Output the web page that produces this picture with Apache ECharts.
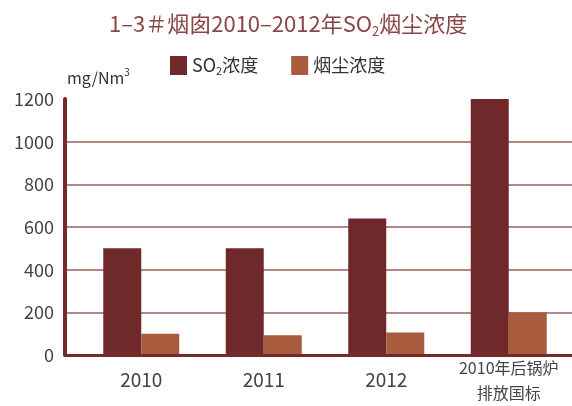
<!DOCTYPE html>
<html>
<head>
<meta charset="utf-8">
<script src="https://cdn.jsdelivr.net/npm/echarts@6/dist/echarts.min.js"></script>
<style>
  html, body { margin: 0; padding: 0; background: #fff; }
  #main { width: 572px; height: 406px; }
</style>
</head>
<body>
<div id="main"></div>
<script>
// 图表数据
const categories = ['2010', '2011', '2012', '2010年后锅炉\n排放国标'];
const so2Values = [500, 500, 640, 1200];
const dustValues = [100, 92, 105, 200];
const yMin = 0;
const yMax = 1200;
const yStep = 200;

const so2Color = '#70292a';
const dustColor = '#a85c3d';
const axisColor = '#722a2a';
const gridColor = '#b58686';
const font = '"Noto Sans CJK SC", "Noto Sans", sans-serif';

var myChart = echarts.init(document.getElementById('main'));

// 最上面那条 1200 的线不画
var splitColors = [];
for (var v = yMin; v <= yMax; v += yStep) {
  splitColors.push(v === yMax ? 'rgba(0,0,0,0)' : gridColor);
}

var catData = categories.map(function (c, i) {
  if (i === categories.length - 1) {
    return {
      value: c,
      textStyle: { fontSize: 16, lineHeight: 25, verticalAlign: 'middle', padding: [10, 0, 0, 0], color: '#444' }
    };
  }
  return c;
});

var option = {
  animation: false,
  textStyle: { fontFamily: font, fontWeight: 'normal' },
  title: [
    {
      text: '{a|1–3＃烟囱2010–2012年SO}{b|2}{a|烟尘浓度}',
      left: 104,
      top: 5,
      textStyle: {
        fontWeight: 'normal',
        rich: {
          a: { fontSize: 22, color: '#8a4646', lineHeight: 28, fontFamily: font, fontWeight: 'normal' },
          b: { fontSize: 13, color: '#8a4646', lineHeight: 16, verticalAlign: 'bottom', fontFamily: font, fontWeight: 'normal' }
        }
      }
    },
    {
      text: '{a|mg/Nm}{b|3}',
      left: 62,
      top: 62,
      textStyle: {
        fontWeight: 'normal',
        rich: {
          a: { fontSize: 16, color: '#333', lineHeight: 22, fontFamily: font, fontWeight: 'normal' },
          b: { fontSize: 10, color: '#333', lineHeight: 12, verticalAlign: 'top', fontFamily: font, fontWeight: 'normal' }
        }
      }
    }
  ],
  legend: {
    left: 165,
    top: 51,
    itemWidth: 17,
    itemHeight: 19,
    itemGap: 33,
    icon: 'rect',
    formatter: function (name) {
      if (name === 'SO2浓度') return '{a|SO}{b|2}{a|浓度}';
      return '{a|' + name + '}';
    },
    textStyle: {
      rich: {
        a: { fontSize: 18, color: '#333', lineHeight: 22, fontFamily: font },
        b: { fontSize: 11, color: '#333', lineHeight: 13, verticalAlign: 'bottom', fontFamily: font }
      }
    }
  },
  grid: [
    { left: 65, right: 0, top: 99, bottom: 51, outerBoundsMode: 'none', containLabel: false },
    { left: 80, right: 2, top: 99, bottom: 51, outerBoundsMode: 'none', containLabel: false }
  ],
  xAxis: [
    {
      gridIndex: 0,
      type: 'value',
      min: 0,
      max: 1,
      z: 10,
      axisLine: { show: true, lineStyle: { color: axisColor, width: 3 } },
      axisTick: { show: false },
      axisLabel: { show: false },
      splitLine: { show: false }
    },
    {
      gridIndex: 1,
      type: 'category',
      data: catData,
      axisLine: { show: false },
      axisTick: { show: false },
      axisLabel: {
        color: '#444',
        fontSize: 19,
        margin: 25,
        verticalAlign: 'middle',
        interval: 0
      }
    }
  ],
  yAxis: [
    {
      gridIndex: 0,
      type: 'value',
      min: yMin,
      max: yMax,
      interval: yStep,
      axisLine: { show: true, lineStyle: { color: axisColor, width: 4 } },
      axisTick: { show: false },
      axisLabel: {
        color: '#444',
        fontSize: 18,
        margin: 11,
        formatter: function (val) { return String(val); }
      },
      splitLine: { show: true, lineStyle: { color: splitColors, width: 2 } }
    },
    {
      gridIndex: 1,
      type: 'value',
      min: yMin,
      max: yMax,
      interval: yStep,
      show: false,
      splitLine: { show: false }
    }
  ],
  series: [
    {
      name: 'SO2浓度',
      type: 'bar',
      xAxisIndex: 1,
      yAxisIndex: 1,
      data: so2Values,
      barWidth: 38,
      barGap: '0%',
      itemStyle: { color: so2Color }
    },
    {
      name: '烟尘浓度',
      type: 'bar',
      xAxisIndex: 1,
      yAxisIndex: 1,
      data: dustValues,
      barWidth: 38,
      barGap: '0%',
      itemStyle: { color: dustColor }
    }
  ]
};

option && myChart.setOption(option);
</script>
</body>
</html>
